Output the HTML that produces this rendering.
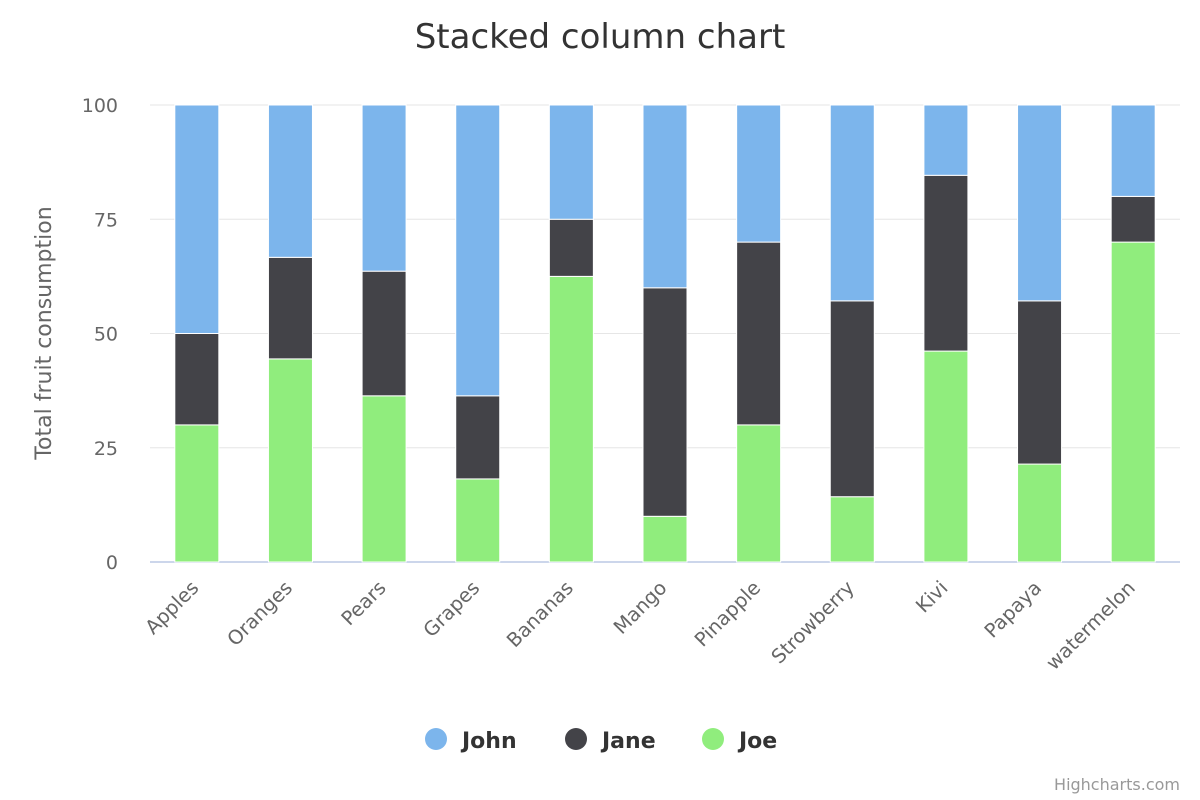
<!DOCTYPE html>
<html><head><meta charset="utf-8"><style>
body{margin:0;background:#fff}
svg{display:block;font-family:"DejaVu Sans","Liberation Sans",sans-serif}
</style></head><body>
<svg id="chart" width="1200" height="800">
<text x="600" y="48" text-anchor="middle" font-size="34" fill="#333">Stacked column chart</text>
<g id="grid"></g><g id="bars"></g><g id="xlabels"></g>
<text transform="translate(51,333) rotate(-90)" text-anchor="middle" font-size="22" fill="#666">Total fruit consumption</text>
<g>
<g><circle cx="436" cy="739" r="11" fill="#7cb5ec"/><text x="462" y="748" font-size="22" font-weight="bold" fill="#333">John</text></g>
<g><circle cx="576" cy="739" r="11" fill="#434348"/><text x="602" y="748" font-size="22" font-weight="bold" fill="#333">Jane</text></g>
<g><circle cx="713" cy="739" r="11" fill="#90ed7d"/><text x="739" y="748" font-size="22" font-weight="bold" fill="#333">Joe</text></g>
</g>
<text x="1180" y="790" text-anchor="end" font-size="16" fill="#999">Highcharts.com</text>
</svg>
<script>
const categories=["Apples","Oranges","Pears","Grapes","Bananas","Mango","Pinapple","Strowberry","Kivi","Papaya","watermelon"];
const john=[5,3,4,7,2,4,3,3,2,6,2];
const jane=[2,2,3,2,1,5,4,3,5,5,1];
const joe=[3,4,4,2,5,1,3,1,6,3,7];
const yTicks=[0,25,50,75,100];
const NS="http://www.w3.org/2000/svg";
const L=150,R=1180,T=105,B=562;
const y=v=>B-(B-T)*v/100;
const cw=(R-L)/categories.length;
const x=i=>L+cw*i+cw/2;
function mk(tag,attrs,parent){const e=document.createElementNS(NS,tag);for(const k in attrs)e.setAttribute(k,attrs[k]);parent.appendChild(e);return e;}
const grid=document.getElementById('grid');
yTicks.forEach(t=>{
 const ln=mk('line',{x1:L,x2:R,y1:y(t),y2:y(t),stroke:t===0?'#ccd6eb':'#e6e6e6','stroke-width':t===0?2:1},grid);
 
 
 const tx=mk('text',{x:118,y:y(t)+7,'text-anchor':'end','font-size':19,fill:'#666'},grid);
 tx.textContent=t;
 
 
});
const bars=document.getElementById('bars'),xl=document.getElementById('xlabels');
const series=[["joe",joe,"#90ed7d"],["jane",jane,"#434348"],["john",john,"#7cb5ec"]];
categories.forEach((c,i)=>{
 const tot=john[i]+jane[i]+joe[i];let acc=0;
 series.forEach(([n,arr,col])=>{
  const p=arr[i]/tot*100;
  const r=mk('rect',{x:x(i)-22,width:44,y:y(acc+p),height:y(acc)-y(acc+p),fill:col,stroke:'#fff','stroke-width':1},bars);
  
  
  acc+=p;
 });
 const t=mk('text',{transform:`translate(${x(i)+3},${589}) rotate(-45)`,'text-anchor':'end','font-size':19.5,fill:'#666'},xl);
 t.textContent=c;
 
 
});
</script>
</body></html>
